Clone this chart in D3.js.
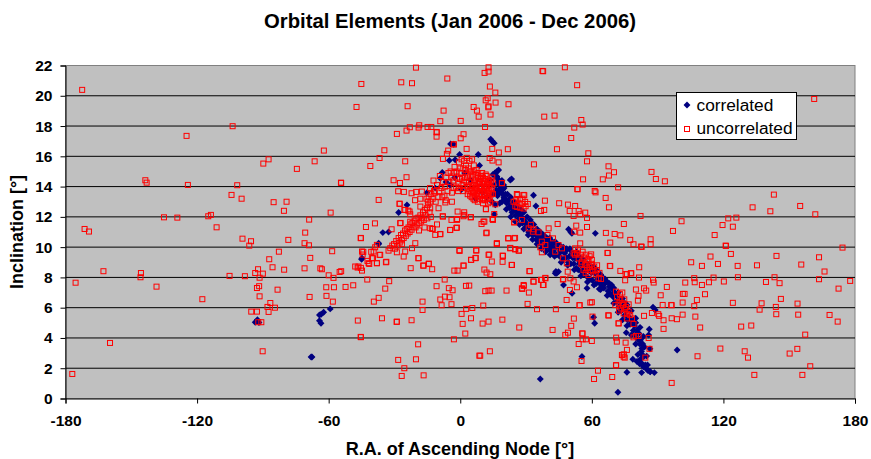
<!DOCTYPE html>
<html>
<head>
<meta charset="utf-8">
<script src="https://cdnjs.cloudflare.com/ajax/libs/d3/7.8.5/d3.min.js"></script>
<style>
    html, body { margin: 0; padding: 0; background: #fff; overflow: hidden; }
    text { font-family: "Liberation Sans", Arial, sans-serif; fill: #000; }
    .chartTitle { font-size: 20.3px; font-weight: bold; }
    .axisTitle { font-size: 18px; font-weight: bold; }
    .axis text { font-size: 15.5px; font-weight: bold; }
    .legendText { font-size: 17.3px; }
</style>
</head>
<body>
<script>
//tick labels
var raTicks = [-180, -120, -60, 0, 60, 120, 180];
var incTicks = [0, 2, 4, 6, 8, 10, 12, 14, 16, 18, 20, 22];
var seriesNames = ["correlated", "uncorrelated"];

//correlated objects, [R.A., inclination]
var corrTrail = [
    [14.9,14.8],[15.8,14.9],[16,14.88],[16.6,14.6],[17.2,14.3],[17.5,14.44],[18,14.1],[18.2,13.89],[18.4,13.7],[19,13.56],[19.4,13.8],[19.8,14.11],
    [19.9,13.3],[20.1,13.23],[20.6,13.5],[21.2,12.9],[21.3,13],[22,13.1],[22.4,12.6],[22.8,12.68],[23.3,12.8],[23.6,12.3],[24.3,12.46],[24.8,12.6],
    [25.2,12.1],[25.8,12.35],[26.3,12.3],[26.8,11.9],[27.4,12.13],[27.9,12],[28.4,11.6],[28.9,11.8],[29.4,11.7],[29.8,11.3],[30.4,11.47],[30.9,11.5],
    [31.2,11],[31.9,11.24],[32.4,11.1],[32.9,10.8],[33.4,11.02],[33.9,10.9],[34.6,10.5],[35.2,10.7],[35.7,10.91],[36,10.3],[36.7,10.5],[37.2,10.69],
    [37.6,10.1],[38.3,10.3],[38.8,10.47],[39.4,10],[39.9,10.2],[40.3,10.36],[40.9,9.8],[41.3,10],[41.8,10.14],[42.4,9.7],[43,9.9],[43.3,10.36],
    [44,9.5],[44.6,9.9],[45.3,9.4],[45.8,9.7],[46.4,9.92],[47,9.2],[47.6,9.6],[48.2,9.3],[48.6,9.81],[49.3,9],[49.8,9.4],[50.4,8.9],
    [50.9,9.7],[51.3,9.3],[51.8,8.9],[52.4,9.26],[52.9,8.6],[53.2,9.26],[53.8,8.5],[54.2,8.9],[54.7,9.04],[55.2,8.4],[55.7,8.7],[56.2,8.82],
    [56.7,8.2],[57.3,8.5],[57.8,8.7],[58.2,8],[58.5,8.49],[59.2,7.9],[59.8,8.3],[60.3,7.8],[60.8,8.38],[61.6,8.27],[62,7.6],[62.6,7.9],
    [63.1,7.72],[63.8,8.05],[64.3,7.5],[64.9,7.8],[65.5,7.3],[66,7.6],[66.9,7.72],[67.4,7.1],[68,7.4],[68.6,6.9],[69.2,7.28],[69.8,6.7],
    [70.2,7],[70.7,6.95],[71.3,6.4],[71.9,6.7],[72.5,6.1],[73,6.5],[73.5,5.8],[74,6.1],[74.5,5.95],[75,5.5],[75.6,5.8],[76.2,5.2],
    [76.8,5.4],[77.4,4.9],[77.8,5.2],[78.3,5.07],[78.9,4.5],[79.4,4.8],[79.9,4.2],[80.6,4.52],[81,3.9],[81.5,4.3],[81.9,3.6],[82.1,3.86],
    [82.6,3.1],[82.8,3.31],[83.2,3.6],[83.6,2.76],[83,2.9],[82.2,2.6],[82.8,2.32],[83.5,2.1],[84.4,2.21],[85,1.95],[85.6,1.85],[86.6,1.77],
    [60.8,8.7],[47.6,9.9],[33,11.5],[40.8,10.6],[25.6,12.8],[19,14.4],[53,9.7],[65,8],[69,7.5],[75,6.3],[80,5],[68,6.9]
];
//thickening of the trail, either side of its centre line
var corrThick = [
    [20,13.9],[21.5,13.5],[23,13.3],[24.5,13],[26,12.7],[27.5,12.5],[29,12.3],[30.5,12],[32,11.8],[33.5,11.5],[35,11.2],[36.5,11],[38,10.8],[39.5,10.6],
    [41,10.5],[42.5,10.3],[44,10.2],[45.5,10.1],[47,10],[48.5,9.9],[50,9.9],[52,9.6],[54,9.4],[56,9.2],[58,8.9],[60,8.7],[62,8.5],[64,8.2],[66,7.9],
    [68,7.6],[70,7.3],[72,7],[74,6.6],[76,6.2],[78,5.8],[80,5.3],[82,4.7],[83.5,4.1],[84,3.4],[85,2.8],
    [17,13.5],[19,13],[21,12.5],[23,12],[25,11.7],[27,11.5],[29,11.2],[31,10.8],[33,10.5],[35,10.2],[37,9.9],[39,9.7],[41,9.5],[43,9.4],[46,9],[49,8.8],
    [52,8.5],[55,8.1],[58,7.7],[61,7.5],[64,7.2],[67,6.8],[70,6.3],[72,5.7],[74,5.2],[76,4.8],[78,4.2],[80,3.6],[81,2.9],[81.8,2.3]
];
var corrPeak = [
    [13.9,17.13],[14.6,17],[15.5,16.87],[-4.4,16.82],[-3,16.8],[8.2,16.12],[-0.3,16.12],[-5,15.72],[-2.3,15.77],[8.8,15.39],[16.7,15],[17.5,15.1],
    [-8.2,14.93],[-9.1,14.55],[-4.6,14.1],[-11.4,13.9],[-15.2,13.6],[-24.3,12.79],[-28.1,12.29],[-35.3,10.96],[-32.7,11],[-37.2,10.26],[-45,9.2],
    [4.6,14.44],[13.7,14.44],[15.2,14.1],[16,12.8],[15.5,12.17],[12.2,13.3],[16.7,14.67],[16.4,13.78],[-44.8,9.27],[-37.2,10.2],[-2.5,14.6],[2,14.9],
    [7,13.2],[10,13.6],[14.5,13],[15,13.5],[17,13.4],[18,12.9],[-6.5,14.3],[0.5,13.8]
];
var corrOutliers = [
    [-93.5,5.04],[-92.5,5.2],[-91.8,5.02],[-67.6,2.74],[-68,2.74],[-64.2,5.52],[-64.2,5.14],[-59.3,5.92],[-62.3,5.7],[-63.4,5.57],[-63.5,4.97],
    [36.5,1.29],[55.5,2.77],[47.1,7.5],[51,6.95],[43.6,8.39],[44,8.28],[44.8,8.38],[43.3,8.27],[33.4,13.43],[34.5,12.72],[61.6,10.91],[49.4,11.18],
    [50.4,11],[50.9,10.91],[22.8,14.44],[23.4,14.5],[71.9,0.41],[76,1.73],[82.7,1.71],[85.4,2.22],[86.6,1.78],[88.5,1.71],[98.9,3.21],[87.9,6.03],
    [88.9,5.85],[86.2,4.57],[85.9,4.2],[86.5,3.28],[78.7,2.59],[80.6,2.44],[75.7,4.35],[60.8,5.37],[61.3,4.97],[63.4,7.24],[57.8,7.28]
];

//uncorrelated objects, [R.A., inclination]
var uncorrWest = [
    [-172.4,20.39],[-124.8,17.35],[-103.8,17.99],[-143.6,14.42],[-143,14.26],[-124.2,14.11],[-101.7,14.09],[-89.8,15.52],[-87.4,15.8],[-74.5,15.17],
    [-66.4,15.67],[-104.3,13.45],[-99.7,13.2],[-85.1,12.97],[-79.2,13],[-80.4,12.4],[-68.9,11.82],[-135.1,11.97],[-129,11.95],[-114.9,12.04],
    [-113.7,12.13],[-111.1,11.31],[-171.3,11.2],[-169.3,11.03],[-70.7,10.96],[-99.3,10.56],[-95.4,10.39],[-96.2,10.1],[-78.4,10.48],[-71,10.26],
    [-69,10.12],[-82.7,9.7],[-87.1,9.2],[-68.4,9.29],[-85.6,8.67],[-80.3,8.51],[-71,8.6],[-63.8,8.6],[-92.2,8.54],[-93.5,8.29],[-90,8.25],[-91.5,7.98],
    [-105.2,8.1],[-98.2,8.08],[-162.7,8.41],[-145.6,8.29],[-145.8,8.01],[-175.4,7.65],[-138.5,7.39],[-91.7,7.42],[-92.7,7.3],[-83.3,7.19],[-91.5,6.75],
    [-68.7,6.71],[-117.6,6.56],[-86.6,6.31],[-87.9,6.05],[-84.5,6],[-95.3,5.74],[-92.7,5.74],[-87.4,5.72],[-92.1,5.04],[-90.7,5.04],[-90.1,3.12],
    [-159.7,3.67],[-176.9,1.62]
];
var uncorrTop = [
    [-20.2,21.86],[12.9,21.88],[11.1,21.51],[12.9,21.6],[37.5,21.64],[37.8,21.62],[47.7,21.88],[-45.1,20.78],[-26.9,20.89],[-22,20.83],[-5.9,21.14],
    [53.3,20.7],[13.5,20.61],[16,20.21],[-47.3,19.26],[-24,19.31],[-7.6,19.02],[6.1,19.26],[7.6,19.02],[8.4,18.62],[11.6,19.7],[12.5,19.84],[16.1,19.55],
    [12.8,19.24],[12.9,19.3],[22,19.44],[13.8,18.76],[38.3,18.62],[43,18.69],[55.2,18.4],[55.8,18.1],[52,17.9],[50.6,17.21],[-9.1,18.32],[0.2,18.34],
    [-18.7,18.05],[-19,17.9],[-23,17.92],[-24.5,17.7],[-28.9,17.48],[-14.9,17.94],[-13.2,17.94],[-10.8,17.61],[-10.7,17.58],[-10.8,17.3],[1.5,17.46],
    [0.2,17.19],[11.3,17.94],[-3,16.8],[-2.9,16.78],[14.6,16.49],[21.7,16.47],[17.6,16.25],[44.1,16.47],[2.9,16.49],[-5.5,16.38],[-6.1,16.16],[-34.6,16.4],
    [-36.8,15.89],[-62.2,16.38],[-41,15.36],[-25.1,15.67],[-7.9,15.83],[33.6,15.47],[58.4,16.2],[57.8,15.67],[13.4,15.89],[14.7,15.72],[17.5,15.6],
    [56,14.48],[53.4,13.84],[53.5,13.82],[-54.4,14.26],[-54.3,14.24],[-30.4,14.42],[-27.5,14.24],[-24.5,14.62],[-28.3,13.69],[-25.7,13.65],[-22.2,13.56],
    [-20.1,13.65],[19,14.24],[26.1,13.45],[29.2,13.43],[-37.2,13.12],[-59.1,12.28],[-38.9,11.57],[-43,11.33],[-31.3,11.18],[-27.2,11.6],[-27.7,12.87],
    [-25.5,12.46],[-23.7,12.41],[-22.8,12.17],[-22.8,11.68],[38.6,13.07],[45.1,12.9],[49.1,12.81],[52.4,12.72],[49.9,12.39],[54,12.39],[57,12.28],[54.7,12.17],
    [51.7,12.06],[57.8,11.93],[44.4,11.53],[52.9,11.42],[52,11.02],[57.8,11.33],[54.7,10.96],[38.3,12.46],[36.8,12.39],[11.7,12.52],[-8,12.04],[-4,11.8],
    [-1.4,11.86],[1.8,12.3],[1.5,12.04],[4.7,11.97],[10.6,11.68],[9.7,11.53],[14.7,11.86],[-1.8,11.27],[-4.6,11.13],[24.6,11.64],[12,10.96],[-9.1,10.87],
    [-12.8,11.2],[-10.6,11.5]
];
var uncorrLower = [
    [-58.4,9.73],[-45.4,10.61],[-45.3,10.59],[-44.2,9.69],[-44.5,9.51],[-40.6,9.69],[-38.8,9.99],[-36.8,9.49],[-39.8,9.27],[-42.3,9.09],[-41.5,8.89],[-38,8.94],
    [-33.7,9.03],[-63.1,8.54],[-60,8.14],[-57.8,7.97],[-55,8.36],[-54.3,8.41],[-46.8,8.65],[-45.3,8.63],[-44.8,8.45],[-42.4,7.86],[-32.4,7.75],[-34.2,7.26],
    [-61.1,7.35],[-57.6,7.35],[-52.3,7.37],[-48.8,7.48],[-61,6.78],[-58.1,6.4],[-37.2,6.65],[-39.4,6.4],[-46.7,5.15],[-35.7,5.3],[-29,5.06],[-28.9,5.08],[-22.2,5.17],
    [-45.4,4.07],[-45.3,4.05],[-19.2,3.58],[-28.3,2.55],[-20.2,2.59],[-25.5,2],[-26.7,1.49],[-16.7,1.53],[-17.2,6.4],[-17.2,5.85],[-22.6,8.61],[-19.1,9.27],[-16.9,8.78],
    [-14.3,8.91],[-12.8,8.54],[-7.1,7.86],[-10.8,7.42],[-5.2,7.29],[-3.5,7.15],[-7,6.73],[-9.1,6.54],[-4.9,6.69],[-8.5,6.16],[-4,6.23],[-0.4,9.8],[7.3,9.8],[5,9.16],
    [7.1,9.29],[13.2,9.51],[14.4,9.05],[16.7,10.24],[21.9,10.59],[25,10.61],[22.8,9.95],[25,9.86],[26.8,9.77],[19.3,9.44],[19.3,9.03],[23.4,8.83],[1.5,8.78],[-2.7,8.45],
    [-1.2,8.45],[11,8.52],[12,8.32],[13.7,8.21],[2.6,7.44],[4.1,7.46],[11.4,7.09],[12.9,7.13],[14.3,7.13],[21.1,7.13],[28.3,7.24],[29,7.44],[31.3,7],[31.6,8.41],[33.4,7.73],
    [36.8,7.84],[38,7.5],[38.8,7.97],[30.7,6.25],[35,5.9],[43.6,5.9],[10.5,6.14],[5.5,5.98],[2.7,5.92],[0.6,5.59],[4.9,5.3],[1.1,4.93],[10.2,4.95],[12.9,5.08],[19.2,5.21],
    [26.9,4.69],[2.3,4.29],[-2.9,3.91],[13.5,3.12],[8.7,2.83],[9.1,2.83],[42.1,4.53],[47.9,4.2],[49.1,4.35],[50.6,4.8],[51.8,5.28],[55.8,4.29],[55.8,3.91],[57.3,3.91],
    [54,3.6],[55.3,2.48],[48.5,6.51],[54.4,6.16],[47,7.88],[50,7.17],[53.2,7.35],[51.7,7.73],[59.3,6.34]
];
var uncorrEast = [
    [161.4,19.79],[67.6,15.34],[70.1,14.95],[67.8,14.73],[65,14.48],[87.2,14.97],[89.2,14.5],[93.3,14.35],[72,13.95],[61.3,13.71],[61.7,13.62],[66.3,13.25],[67.8,12.63],
    [82.2,12.06],[74.6,11.53],[100.9,11.71],[97,11.07],[143,13.47],[133.3,12.63],[141.4,12.37],[155,12.72],[161.9,12.17],[122.2,11.9],[125.9,11.95],[119.6,11.46],[124.3,11.35],
    [116,10.8],[66.4,10.94],[70.4,10.87],[73,10.78],[68.4,10.3],[77.5,10.48],[79,10.19],[82.5,10.04],[82.7,10.02],[86.8,10.52],[86.8,10.19],[121,10.1],[121.2,10.08],[123.4,9.55],
    [114.1,9.38],[105.3,9],[110.2,8.76],[117.5,8.89],[126.5,8.76],[135.3,8.8],[144.2,9.42],[155.5,8.85],[163.6,9.33],[174.3,9.97],[166.1,8.39],[67.2,9.62],[68.2,8.76],[81.6,8.67],
    [73,8.43],[76,8.21],[77.8,8.28],[81.5,7.99],[75.2,7.81],[87.9,7.84],[88.2,7.66],[94.2,7.37],[102.6,7.66],[106.7,7.95],[106.9,7.68],[110.2,7.5],[113.4,7.68],[115.5,7.99],[120.2,7.73],
    [126.6,8.01],[139.4,7.7],[143.3,8.01],[145.6,7.62],[163.6,7.88],[172.5,7.26],[177.8,7.77],[80.1,7.2],[83.8,7.28],[84.8,7.13],[73.9,7],[81.3,6.78],[81,6.47],[91.4,6.82],[101.5,6.91],
    [102.3,6.91],[111.6,6.89],[107.9,6.51],[101.4,6.34],[92.3,6.18],[96.2,6.18],[96.4,6.16],[106.7,6.1],[124.3,6.32],[137.4,6.29],[146.2,6.58],[153.8,6.27],[136.5,5.87],[143.9,6.05],
    [144.1,5.57],[154.1,5.54],[168.4,5.52],[172.1,5.08],[101.4,5.54],[107.2,5.41],[98.8,5.24],[96.4,5.3],[92.7,5.17],[90.3,5.57],[87.4,5.65],[90.7,5.46],[83.8,5.46],[67.5,5.5],[67.7,5.48],
    [72.2,4.97],[92.7,4.6],[109.4,4.69],[128.1,4.75],[132.7,4.82],[157.3,4.22],[71.1,4.02],[71.4,3.76],[75.4,3.69],[76,3.21],[60,3.8],[118.6,3.3],[129.7,3.12],[131.2,2.7],[153.7,3.28],
    [150.2,2.97],[108.2,2.79],[159.6,2.13],[156,1.56],[134.1,1.56],[96.4,1.03],[71.1,2.2],[62.8,1.84],[69.3,1.42],[61,1.29],[60,6.36],[60.3,5.41],[84.4,2.7],[86.3,3.28],
    [73.9,2.88],[74.6,2.92],[75,2.7]
];
//descending band of the uncorrelated cloud
var uncorrBand = [
    [19,14.22],[14.9,13.51],[16,12.83],[15.5,12.19],[14.9,11.8],[16.7,10.21],[24.6,11.64],[21.9,10.58],[24.6,10.58],[22.8,9.92],[25.1,9.86],[26.6,9.77],[19.5,9.42],[23.6,8.82],[31.6,8.42],
    [25.8,13.51],[28.9,13.45],[29.6,12.99],[24.3,13],[25.1,12.7],[26.6,12.9],[27.4,12.6],[28.1,12.85],[28.9,12.55],[26,12.65],[25.4,13.1],[27.2,13.15],[28.4,13.2],[29.8,12.7],[30.8,12.85],
    [28.1,11.8],[32.2,11.47],[33.4,11.18],[31.2,11.24],[33.1,11.02],[35.7,10.98],[40.3,11.24],[42.3,10.58],[39.8,10.8],[37.2,10.36],[38.8,10.14],[36.5,9.99],[37.2,9.66],[43.3,9.7],[46.4,9.92],
    [46.8,9.26],[48.6,8.93],[49,8.38],[44.8,10.14],[52.4,9.92],[53.2,9.59],[54.7,10.25],[51.7,9.59],[54,9.26],[55.5,9.04],[57,8.82],[58.5,9.04],[60,9.15],[57.8,8.6],[59.3,8.49],[61.1,8.71],
    [62.3,8.49],[58.5,8.16],[63.1,7.94],[50.2,7.94],[46.8,7.87],[38.8,7.94],[37.2,7.83],[33.4,7.72],[37.7,7.5],[28.9,7.5],[28.1,7.28],
    [52.3,9.5],[53.7,9.8],[54.9,9.5],[55.8,9.7],[56.6,9.3],[57.4,9.5],[58.1,9.2],[59,9.4],[55.2,8.9],[56.2,8.5],[57.2,8.3],[58.9,8.7],[59.8,8.9],[60.6,8.4],[61.8,8.2],[62.4,8.8],[63.5,8.3],
    [64.2,7.9],[59.7,9.52],[67.2,9.61],[68.4,8.75],[75.4,8.22],[78,8.27],[71,7.06],[73,6.5],[72.2,6.29],[70.7,6.17],[74.2,6.17],[76.8,6.22],[75.2,5.89],[76.8,5.73],[74.5,5.62],[77.5,5.51],
    [79,4.92],[76,5.29],[78.3,5.29],[72.2,4.96],[80.1,4.13],[81.3,4.13],[79,4.04],[85.9,4],[73.7,2.87],[74.5,2.76],[71,2.19],[54.4,6.17],[55.6,4.3],[71.5,6.7],[72.8,6.9],
    [73.4,5.95],[74.8,6.55],[75.6,6.05],[76,5.6],[73.9,6.3],[72.4,5.8]
];
//rising band and central blob of the uncorrelated cloud
var uncorrRise = [
    [-31.9,9.93],[-31,10.1],[-30.2,10.2],[-29.8,9.9],[-29.2,10.4],[-28.6,10.1],[-28.1,10.6],[-27.6,10.3],[-27,10.8],[-26.6,10.45],[-26.1,10.9],[-25.8,10.6],[-25.2,11.1],[-24.8,10.75],[-24.4,11.2],
    [-24,10.9],[-23.6,11.3],[-23.1,11],[-22.7,11.5],[-22.2,11.15],[-21.8,11.6],[-21.3,11.36],[-20.8,11.75],[-20.4,11.3],[-20,11.9],[-19.6,11.5],[-19.1,11.95],[-18.7,11.6],[-18.2,12.1],[-17.8,11.7],
    [-17.5,11.91],[-17,12.3],[-16.6,11.8],[-16.2,12.45],[-15.8,12.1],[-15.2,12.57],[-15,11.9],[-14.6,12.8],[-14.4,13.34],[-14.8,13],[-15.4,13.2],[-14,12.3],[-13.6,13],[-13.4,12],[-16.3,11.3],[-18.8,11.1],
    [-20.6,13.1],[-17.5,13.67],[-18.2,13.2],[-27.6,12.86],[-25.1,12.46],[-23.1,12.35],[-27.4,11.58],[-18.2,12.68],[-13.7,12.57],[-9.9,12.57],[-6.8,12.95],[-3.8,13],[-1.2,12.35],[1.8,12.13],[4.9,11.98],
    [-7.9,12.02],[-1.5,11.8],[-4.6,11.14],[-1.5,11.29],[-11.4,10.81],[-9.1,10.85],[-13.7,11.25],[-12.5,11.21],[11.9,10.92],[16.7,10.26],[11,11.69],[14.9,11.84],[11.7,12.5],[-0.3,9.75],[7.3,9.77],[6.9,9.27],
    [4.9,9.16],[12.9,9.49],[1.5,8.78],[-19,9.27],[-16.7,8.78],[-14.4,8.89],[-44.8,9.71],[-38,10.15],[-39.5,9.71],[-36.5,9.49],[-41.8,8.94],[-38,8.94],[-33.9,9],[-46.4,8.72],[-47.9,8.72],[-25.1,9.71],[-25.8,9.38],
    [-22,9.93],[-20.5,10.26],[-28.9,9.66],[-26.6,10.2],[-32.7,9.77],[-40.3,9.27],
    [-13.2,13.5],[-12.2,14.4],[-11.6,13.6],[-10.6,14.1],[-10,13.3],[-9.3,14.7],[-8.6,13.9],[-7.8,14.3],[-7.2,13.4],[-6.4,14.6],[-5.8,13.7],[-5,14.3],[-4.4,15],[-3.8,13.6],[-3.2,14.4],[-2.6,15.3],
    [-2,14],[-1.6,15],[-1,13.7],[-0.6,15.6],[-0.2,14.5],[0.2,14.9],[0.6,15.8],[1,14.1],[1.4,15.2],[1.8,15.7],[2.2,14.6],[2.6,15.4],[3,15.9],[3.4,14.8],[3.8,15.2],[4.2,15.7],[4.6,14.1],[5,15],[5.4,15.8],
    [5.8,14.6],[6.2,15.4],[6.6,13.8],[7,14.8],[7.4,15.1],[7.8,14.2],[8.2,14.9],[8.6,13.5],[9,14.3],[9.4,14.7],[9.8,13.9],[10.2,14.4],[10.6,13.2],[11,13.8],[11.4,14.5],[11.8,14],[12.2,13.4],[12.6,14.3],[13,13.7],
    [13.4,13.2],[13.8,14],[14.2,13.5],[14.6,14.6],[15,14.2],[3.4,13.5],[4.2,13.7],[5.2,13.3],[5.8,13.6],[6.6,13.1],[7.4,13.4],[8,13],[9,13.2],[9.8,13.4],[10.4,12.9],[11.4,13.1],[12.8,12.9],[5,14.4],[6,14.1],
    [7.2,14],[8.4,14.2],[9.2,14],[10,14.9],[11,14.2],[12,14.7],[13,14.4],[-0.8,14.2],[0.8,14.6],[2,13.9],[2.8,14.3],[3.6,14],[-6.6,13.1],[-8.2,13.3],[-11.2,13],[-12.6,13.2]
];
//solid part of the central blob
var uncorrBlob = [
    [4.5,13.4],[5.3,13.9],[6,13.2],[6.8,14.4],[7.5,13.6],[8.2,13.2],[8.8,13.9],[9.5,14.5],[10,13.1],[10.8,14],[11.4,13.5],[12,13.9],[12.6,13.2],[13.2,14.1],[13.8,13.5],[14.4,13.9],[4,14.3],[5.6,14.8],
    [7,13.9],[8,14.6],[9.2,13.5],[10.5,13.7],[11.6,14.8],[13,13.4],[3,14.6],[4.4,15],[6.4,15],[8.6,14.4],[10.4,14.6],[12.4,13.6],[7.8,13.7],[9,13.7],[6.2,13.6],[5,13.7],[11,13.4],[12.2,14.2],[13.6,13],[14,14.4],
    [1.6,14.4],[0,15.2],[-1.4,14.6],[-2.8,14.9],[2.4,15.1],[-0.4,13.9],[1.2,13.7],[-4,14.6],[-3,13.9],[-5.4,14.9],[-7,14],[-9.6,13.7],[-12,13.7],[-13.8,13.9]
];

var correlated = corrTrail.concat(corrThick, corrPeak, corrOutliers);
var uncorrelated = uncorrWest.concat(uncorrTop, uncorrLower, uncorrEast, uncorrBand, uncorrRise, uncorrBlob);

(function(){
    //plot frame
    var width = 871, height = 459;
    var left = 65.5, right = 855, top = 65.5, bottom = 398.5;

    var svg = d3.select("body").append("svg")
        .attr("width", width)
        .attr("height", height);

    var xScale = d3.scaleLinear().domain([-180, 180]).range([left, right]);
    var yScale = d3.scaleLinear().domain([0, 22]).range([bottom, top]);

    svg.append("rect")
        .attr("x", left).attr("y", top)
        .attr("width", right - left).attr("height", bottom - top)
        .attr("fill", "#c0c0c0")
        .attr("stroke", "#808080");

    //horizontal gridlines
    svg.append("g")
        .selectAll("line")
        .data(incTicks.slice(1, -1))
        .enter()
        .append("line")
        .attr("x1", left).attr("x2", right)
        .attr("y1", function(d){ return yScale(d); })
        .attr("y2", function(d){ return yScale(d); })
        .attr("stroke", "#000")
        .attr("stroke-width", 1);

    var plainNumber = function(d){ return String(d); }; //keeps the ascii hyphen of the original labels

    var yAxis = svg.append("g")
        .attr("class", "axis")
        .attr("transform", "translate(" + left + ",0)")
        .call(d3.axisLeft(yScale).tickValues(incTicks).tickFormat(plainNumber).tickSize(5).tickPadding(8));
    var xAxis = svg.append("g")
        .attr("class", "axis")
        .attr("transform", "translate(0," + bottom + ")")
        .call(d3.axisBottom(xScale).tickValues(raTicks).tickFormat(plainNumber).tickSize(5).tickPadding(11));
    xAxis.select(".domain").attr("stroke", "#000");
    yAxis.select(".domain").attr("stroke", "#000");

    //square turned on its corner gives the flat excel diamond
    var diamond = d3.symbol().type(d3.symbolSquare).size(24);

    //correlated first, uncorrelated sits on top
    svg.append("g")
        .selectAll("path")
        .data(correlated)
        .enter()
        .append("path")
        .attr("d", diamond)
        .attr("transform", function(d){ return "translate(" + xScale(d[0]) + "," + yScale(d[1]) + ") rotate(45)"; })
        .attr("fill", "#000080");

    svg.append("g")
        .selectAll("rect")
        .data(uncorrelated)
        .enter()
        .append("rect")
        .attr("x", function(d){ return xScale(d[0]) - 2.5; })
        .attr("y", function(d){ return yScale(d[1]) - 2.5; })
        .attr("width", 5)
        .attr("height", 5)
        .attr("fill", "none")
        .attr("stroke", "#f00")
        .attr("stroke-width", 1);

    //legend
    var legend = svg.append("g");
    legend.append("rect")
        .attr("x", 676.5).attr("y", 92.5)
        .attr("width", 120).attr("height", 47)
        .attr("fill", "#fff")
        .attr("stroke", "#000");
    legend.append("path")
        .attr("d", diamond)
        .attr("transform", "translate(687,105) rotate(45)")
        .attr("fill", "#000080");
    legend.append("rect")
        .attr("x", 684.5).attr("y", 126.5)
        .attr("width", 5).attr("height", 5)
        .attr("fill", "#fff")
        .attr("stroke", "#f00");
    legend.selectAll("text")
        .data(seriesNames)
        .enter()
        .append("text")
        .attr("class", "legendText")
        .attr("x", 696.5)
        .attr("y", function(d, i){ return 111 + i * 23; })
        .text(function(d){ return d; });

    //titles
    svg.append("text")
        .attr("class", "chartTitle")
        .attr("x", 450).attr("y", 28)
        .attr("text-anchor", "middle")
        .text("Orbital Elements (Jan 2006 - Dec 2006)");
    svg.append("text")
        .attr("class", "axisTitle")
        .attr("x", 460).attr("y", 455)
        .attr("text-anchor", "middle")
        .text("R.A. of Ascending Node [°]");
    svg.append("text")
        .attr("class", "axisTitle")
        .attr("transform", "translate(23,232) rotate(-90)")
        .attr("text-anchor", "middle")
        .text("Inclination [°]");
})();
</script>
</body>
</html>
